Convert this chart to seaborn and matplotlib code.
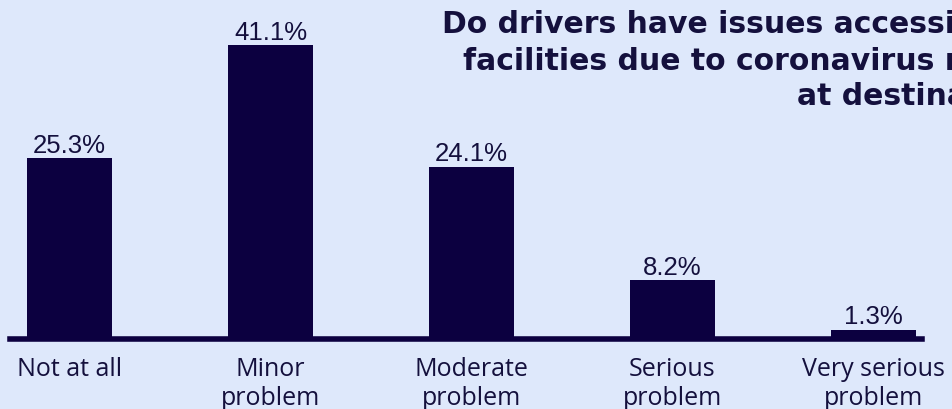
import matplotlib
matplotlib.use('Agg')
import matplotlib.pyplot as plt
import seaborn as sns
import pandas as pd

# data
categories = ["Not at all", "Minor\nproblem", "Moderate\nproblem", "Serious\nproblem", "Very serious\nproblem"]
shares = [25.3, 41.1, 24.1, 8.2, 1.3]
title_lines = [
    "Do drivers have issues accessing toilet",
    "facilities due to coronavirus restrictions",
    "at destinations?",
]

BG = '#dee8fb'
NAVY = '#0c0040'
TEXT = '#14103d'

df = pd.DataFrame({'answer': categories, 'share': shares})

sns.set_theme(style='white')
plt.rcParams['font.family'] = ['Open Sans', 'DejaVu Sans']

fig = plt.figure(figsize=(9.53, 4.10), dpi=100, facecolor=BG)
ax = fig.add_axes([10 / 953, 70 / 410, 912 / 953, 340 / 410])
ax.set_facecolor(BG)

sns.barplot(data=df, x='answer', y='share', color=NAVY, saturation=1,
            width=0.42, linewidth=0, ax=ax, zorder=2)

ax.set_xlim(-0.296, 4.241)
ax.set_ylim(0, 47.55)

for c in ax.containers:
    ax.bar_label(c, labels=[f'{v:.1f}%' for v in shares], padding=1,
                 fontsize=18.5, color=TEXT, family='Liberation Sans')

for s in ['top', 'left', 'right']:
    ax.spines[s].set_visible(False)
ax.spines['bottom'].set_color(NAVY)
ax.spines['bottom'].set_linewidth(4)
ax.spines['bottom'].set_zorder(3)

ax.set_yticks([])
ax.set_xlabel('')
ax.set_ylabel('')
ax.tick_params(axis='x', length=0, pad=12, labelsize=18, labelcolor=TEXT)
for lbl in ax.get_xticklabels():
    lbl.set_linespacing(1.25)

# title, cut off by the right edge as in the source
starts = [442, 463, 797]
baselines = [33, 70, 105]
for line, x0, yb in zip(title_lines, starts, baselines):
    fig.text(x0 / 953, 1 - yb / 410, line, ha='left', va='baseline',
             fontsize=21.5, fontweight='bold', color=TEXT, family='DejaVu Sans')

fig.savefig('out.png', dpi=100, facecolor=BG)
